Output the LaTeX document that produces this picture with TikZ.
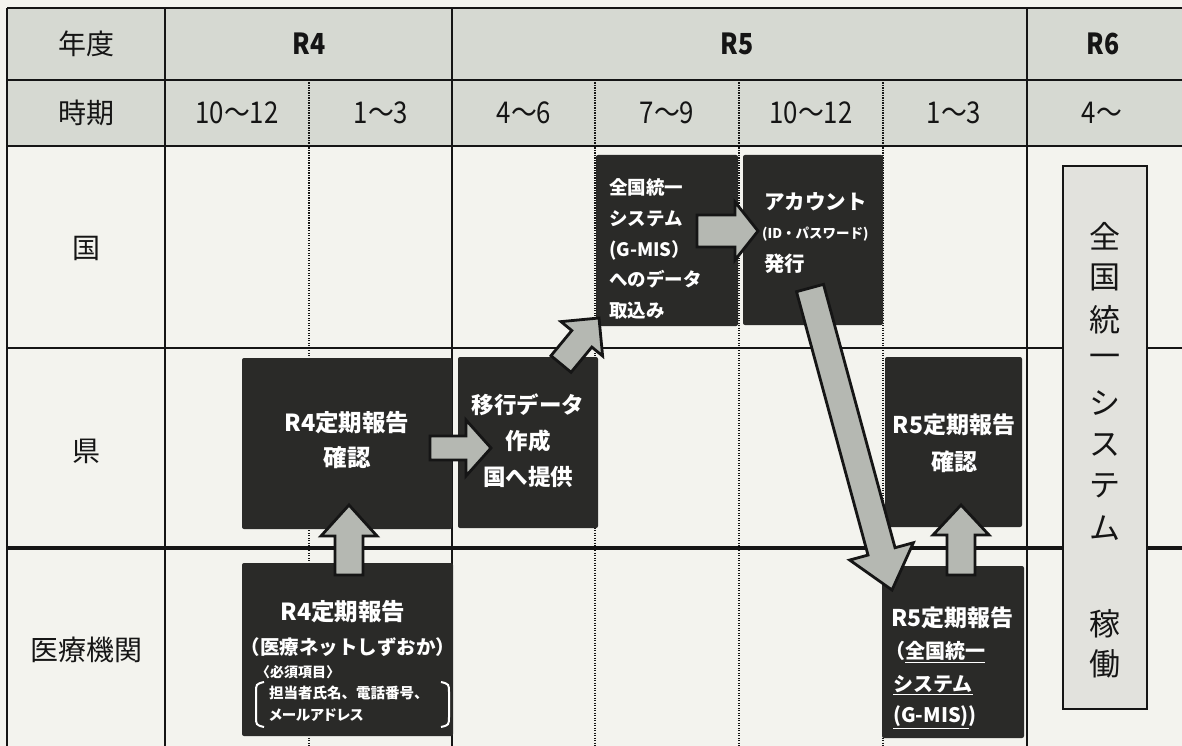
\documentclass[tikz,border=0pt]{standalone}
\usepackage{graphicx}
\usepackage{fontspec}
\setmainfont{Noto Sans CJK JP}
\newfontfamily\jpp[RawFeature=+palt]{Noto Sans CJK JP}
\usetikzlibrary{calc}
\definecolor{bg}{HTML}{F3F3EE}
\definecolor{hdr}{HTML}{D6D9D2}
\definecolor{ink}{HTML}{151515}
\definecolor{boxc}{HTML}{2A2A28}
\definecolor{arrc}{HTML}{B5B8B2}
\definecolor{vboxc}{HTML}{E2E2DD}
\newcommand{\nar}[1]{\scalebox{0.86}[1]{#1}}
\tikzset{
  gridline/.style={draw=ink, line width=1.6pt},
  heavyline/.style={draw=ink, line width=4.5pt},
  dotline/.style={draw=ink, line width=1.1pt, dash pattern=on 1.2pt off 1.3pt},
  darkbox/.style={fill=boxc, draw=none, rounded corners=2pt, inner sep=0pt},
  lab/.style={text=ink, inner sep=0pt, font=\fontsize{28}{32}\selectfont},
  qlab/.style={text=ink, inner sep=0pt, font=\fontsize{30}{34}\selectfont},
  hyear/.style={text=ink, inner sep=0pt, font=\bfseries\fontsize{29}{34}\selectfont},
  wtxt/.style={text=white, inner sep=0pt},
  blockarrow/.style={fill=arrc, draw=ink, line width=2.8pt, line join=miter},
  vbox/.style={fill=vboxc, draw=ink, line width=1.6pt},
  vchar/.style={text=ink, inner sep=0pt, font=\fontsize{31}{32}\selectfont},
}
\newcommand{\blockarr}[5]{%
  \coordinate (bh) at ($(#2)!#5!(#1)$);
  \draw[blockarrow] ($(#1)!#3!90:(#2)$) -- ($(bh)!#3!-90:(#1)$) -- ($(bh)!#4!-90:(#1)$) -- (#2) -- ($(bh)!#4!90:(#1)$) -- ($(bh)!#3!90:(#1)$) -- ($(#1)!#3!-90:(#2)$) -- cycle;
}
\begin{document}
\begin{tikzpicture}[x=1pt,y=-1pt]
\path[use as bounding box, fill=bg] (0,0) rectangle (1182,746);
% header background
\fill[hdr] (7,8) rectangle (1182,146);
% grid
\draw[gridline] (7,8) -- (1182,8);
\draw[gridline] (7,80) -- (1182,80);
\draw[gridline] (7,146) -- (1182,146);
\draw[gridline] (7,348) -- (1182,348);
\draw[heavyline] (7,548) -- (1182,548);
\draw[gridline] (7,8) -- (7,746);
\draw[gridline] (165,8) -- (165,746);
\draw[gridline] (452,8) -- (452,746);
\draw[gridline] (1027,8) -- (1027,746);
\draw[dotline] (309,80) -- (309,746);
\draw[dotline] (595,80) -- (595,746);
\draw[dotline] (739,80) -- (739,746);
\draw[dotline] (883,80) -- (883,746);
% header texts
\node[lab] (nendo) at (86,44) {年度};
\node[lab] (jiki) at (86,113) {時期};
\node[hyear] (r4) at (309,44) {\nar{R4}};
\node[hyear] (r5) at (737,44) {\nar{R5}};
\node[hyear] (r6) at (1103,44) {\nar{R6}};
\node[qlab] (q1) at (237,113) {\nar{10〜12}};
\node[qlab] (q2) at (381,113) {\nar{1〜3}};
\node[qlab] (q3) at (524,113) {\nar{4〜6}};
\node[qlab] (q4) at (667,113) {\nar{7〜9}};
\node[qlab] (q5) at (811,113) {\nar{10〜12}};
\node[qlab] (q6) at (954,113) {\nar{1〜3}};
\node[qlab] (q7) at (1102,113) {\nar{4〜}};
% row labels
\node[lab] (kuni) at (86,248) {国};
\node[lab] (ken) at (86,451) {県};
\node[lab] (iryo) at (86,650) {医療機関};
% dark boxes
\node[darkbox, minimum width=142pt, minimum height=171pt] (gmis) at (667,240.5) {};
\node[darkbox, minimum width=140pt, minimum height=170pt] (acct) at (813,240) {};
\node[darkbox, minimum width=210pt, minimum height=171pt] (r4kakunin) at (347,443.5) {};
\node[darkbox, minimum width=140pt, minimum height=171pt] (ikou) at (528,442.5) {};
\node[darkbox, minimum width=137pt, minimum height=170pt] (r5kakunin) at (953.5,442) {};
\node[darkbox, minimum width=211pt, minimum height=173pt] (r4hokoku) at (347.5,649.5) {};
\node[darkbox, minimum width=142pt, minimum height=172pt] (r5hokoku) at (953,652) {};
% R6 box
\node[vbox, minimum width=84pt, minimum height=543pt, inner sep=0pt] (kado) at (1105,437.5) {};
\foreach \c [count=\i from 0] in {全,国,統,一,シ,ス,テ,ム} {
  \node[vchar] (v\i) at (1105,{236+41.7*\i}) {\c};
}
\node[vchar] (v8) at (1105,624) {稼};
\node[vchar] (v9) at (1105,664) {働};
% box texts
\node[wtxt, anchor=west, align=left, font=\bfseries\fontsize{18.5}{30.8}\selectfont] (tgmis) at (609,249) {全国統一\\システム\\(G-MIS）\\へのデータ\\取込み};
\node[wtxt, anchor=west, font=\bfseries\fontsize{20.5}{24}\selectfont] (tacct1) at (764,202) {アカウント};
\node[wtxt, anchor=west, font=\bfseries\fontsize{13.5}{15}\selectfont] (tacct2) at (762,234) {(ID・パスワード)};
\node[wtxt, anchor=west, font=\bfseries\fontsize{20.5}{24}\selectfont] (tacct3) at (764,264) {発行};
\node[wtxt, align=center, font=\bfseries\fontsize{23.5}{35}\selectfont] (tr4k) at (347,440) {R4定期報告\\確認};
\node[wtxt, align=center, font=\bfseries\fontsize{22.5}{36}\selectfont] (tikou) at (528,441) {移行データ\\作成\\国へ提供};
\node[wtxt, align=center, font=\bfseries\fontsize{23}{37}\selectfont] (tr5k) at (954,443) {R5定期報告\\確認};
\node[wtxt, font=\bfseries\fontsize{23.5}{26}\selectfont] (tr4h1) at (343,612) {R4定期報告};
\node[wtxt, font=\bfseries\fontsize{19.5}{22}\selectfont] (tr4h2) at (348,647) {（医療ネットしずおか）};
\node[wtxt, anchor=west, font=\bfseries\fontsize{14}{16}\selectfont] (tr4h3) at (256,672) {〈必須項目〉};
\node[wtxt, anchor=west, font=\bfseries\fontsize{14.5}{17}\selectfont] (tr4h4) at (269,693) {担当者氏名、電話番号、};
\node[wtxt, anchor=west, font=\jpp\bfseries\fontsize{14.5}{17}\selectfont] (tr4h5) at (269,715) {メールアドレス};
\draw[white, line width=2pt] (264,682) .. controls (256,684) .. (256,693) -- (256,716) .. controls (256,725) .. (264,727);
\draw[white, line width=2pt] (441,682) .. controls (449,684) .. (449,693) -- (449,716) .. controls (449,725) .. (441,727);
\node[wtxt, anchor=west, font=\bfseries\fontsize{23}{25}\selectfont] (tr5h1) at (891,618) {R5定期報告};
\node[wtxt, anchor=west, font=\bfseries\fontsize{20}{23}\selectfont] (tr5h2) at (885,652) {（\underline{全国統一}};
\node[wtxt, anchor=west, font=\bfseries\fontsize{20}{23}\selectfont] (tr5h3) at (893,685) {\underline{システム}};
\node[wtxt, anchor=west, font=\bfseries\fontsize{20}{23}\selectfont] (tr5h4) at (893,717) {\underline{(G-MIS)})};
% block arrows
\coordinate (a1s) at (349,575); \coordinate (a1e) at (349,505);
\coordinate (a2s) at (430,448); \coordinate (a2e) at (491,448);
\coordinate (a3s) at (561,364); \coordinate (a3e) at (599,318);
\coordinate (a4s) at (697,231); \coordinate (a4e) at (758,231);
\coordinate (a5s) at (810,288); \coordinate (a5e) at (892,590);
\coordinate (a6s) at (961,575); \coordinate (a6e) at (961,505);
\blockarr{a1s}{a1e}{14pt}{28pt}{31pt}
\blockarr{a2s}{a2e}{12pt}{28pt}{25pt}
\blockarr{a3s}{a3e}{13pt}{27pt}{27pt}
\blockarr{a4s}{a4e}{16pt}{29pt}{23pt}
\blockarr{a5s}{a5e}{14pt}{33pt}{40pt}
\blockarr{a6s}{a6e}{14pt}{28pt}{30pt}
\end{tikzpicture}
\end{document}
